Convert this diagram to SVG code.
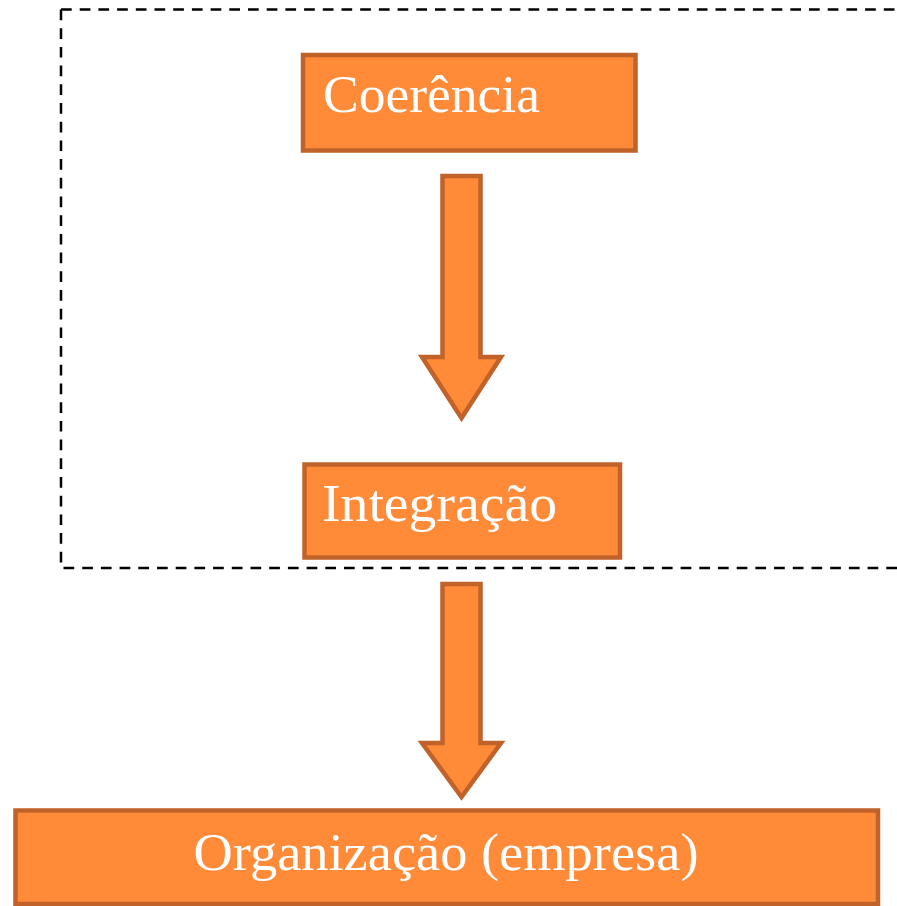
<svg xmlns="http://www.w3.org/2000/svg" width="897" height="906" viewBox="0 0 897 906">
  <style>
    .box { fill: #FF8A37; stroke: #C0622A; stroke-width: 4.5; }
    .arrow { fill: #FF8A37; stroke: #C0622A; stroke-width: 4.5; stroke-linejoin: miter; }
    .lbl { font-family: "Liberation Serif", "Times New Roman", serif; font-size: 53px; fill: #FFFFFF; }
    .frame { fill: none; stroke: #000000; stroke-width: 2.5; stroke-dasharray: 10.7 8; }
  </style>
  <rect width="897" height="906" fill="#FFFFFF"/>
  <g id="grupo">
    <path class="frame" d="M61,9.5 H960 M61,9.5 V568 H960"/>
  </g>
  <g id="connectors">
    <path class="arrow" d="M442.5,176 H480.5 V357 H501 L461.5,418 L422,357 H442.5 Z"/>
    <path class="arrow" d="M442.5,584 H480.5 V743 H501 L461.5,797 L422,743 H442.5 Z"/>
  </g>
  <g id="coerencia">
    <rect class="box" x="303" y="55" width="332.5" height="95.5"/>
    <text class="lbl" x="323" y="112" textLength="217" lengthAdjust="spacingAndGlyphs">Coerência</text>
  </g>
  <g id="integracao">
    <rect class="box" x="304.5" y="464.5" width="315.5" height="93"/>
    <text class="lbl" x="322" y="521" textLength="235" lengthAdjust="spacingAndGlyphs">Integração</text>
  </g>
  <g id="organizacao">
    <rect class="box" x="15.5" y="810.5" width="862.5" height="93.5"/>
    <text class="lbl" x="446" y="870" text-anchor="middle" textLength="505" lengthAdjust="spacingAndGlyphs">Organização (empresa)</text>
  </g>
</svg>
